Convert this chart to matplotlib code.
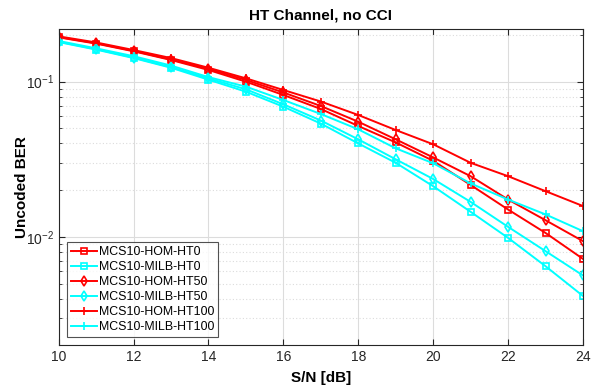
import numpy as np
import matplotlib
matplotlib.use("Agg")
import matplotlib.pyplot as plt
from matplotlib.ticker import LogLocator, NullFormatter

plt.rcParams['font.family'] = ['Liberation Sans', 'DejaVu Sans']

# S/N in dB
snr = [10, 11, 12, 13, 14, 15, 16, 17, 18, 19, 20, 21, 22, 23, 24]

# uncoded BER
hom_ht0 = [0.193, 0.176, 0.157, 0.138, 0.119, 0.100, 0.0821, 0.0667, 0.0518,
           0.0406, 0.0309, 0.0216, 0.0150, 0.0106, 0.00721]
milb_ht0 = [0.180, 0.161, 0.142, 0.123, 0.103, 0.0862, 0.0690, 0.0537, 0.0400,
            0.0300, 0.0212, 0.0145, 0.00985, 0.00647, 0.00416]
hom_ht50 = [0.194, 0.177, 0.158, 0.139, 0.121, 0.1026, 0.0852, 0.0697, 0.0552,
            0.0425, 0.0325, 0.0246, 0.0174, 0.0128, 0.00938]
milb_ht50 = [0.181, 0.162, 0.143, 0.124, 0.105, 0.0893, 0.0715, 0.0562, 0.0425,
             0.0316, 0.0236, 0.0168, 0.0116, 0.00809, 0.00564]
hom_ht100 = [0.196, 0.179, 0.160, 0.142, 0.123, 0.1051, 0.0884, 0.0745, 0.0610,
             0.0488, 0.0395, 0.0300, 0.0246, 0.0197, 0.0158]
milb_ht100 = [0.183, 0.164, 0.146, 0.127, 0.107, 0.0929, 0.0762, 0.0619, 0.0493,
              0.0372, 0.0298, 0.0221, 0.0174, 0.01395, 0.01088]

series = [
    ("MCS10-HOM-HT0", hom_ht0, "#ff0000", "s"),
    ("MCS10-MILB-HT0", milb_ht0, "#00ffff", "s"),
    ("MCS10-HOM-HT50", hom_ht50, "#ff0000", "d"),
    ("MCS10-MILB-HT50", milb_ht50, "#00ffff", "d"),
    ("MCS10-HOM-HT100", hom_ht100, "#ff0000", "+"),
    ("MCS10-MILB-HT100", milb_ht100, "#00ffff", "+"),
]

fig = plt.figure(figsize=(6.02, 3.89), dpi=100)
ax = fig.add_axes([0.0975, 0.1123, 0.8709, 0.8119])

for name, vals, col, mk in series:
    ax.semilogy(snr, vals, color=col, lw=1.4, marker=mk, ms=6 if mk == "+" else 5,
                mfc="none", mew=1.2, label=name)

ax.set_xlim(10, 24)
ax.set_ylim(0.002, 0.217)
ax.set_xticks(range(10, 25, 2))
ax.yaxis.set_major_locator(LogLocator(base=10))
ax.yaxis.set_minor_locator(LogLocator(base=10, subs=np.arange(2, 10)))
ax.yaxis.set_minor_formatter(NullFormatter())

ax.grid(True, which="major", color="#dcdcdc", lw=0.8, ls="-")
ax.grid(True, which="minor", axis="y", color="#dcdcdc", lw=0.8, ls=(0, (1, 2)))
ax.set_axisbelow(True)

ax.tick_params(which="both", direction="in", top=True, right=True,
               colors="#262626", labelsize=10)
ax.tick_params(which="major", length=4)
ax.tick_params(which="minor", length=2)
for s in ax.spines.values():
    s.set_color("#262626")
    s.set_linewidth(0.8)

ax.set_title("HT Channel, no CCI", fontsize=11, fontweight="bold", pad=7)
ax.set_xlabel("S/N [dB]", fontsize=11, fontweight="bold", labelpad=5)
ax.set_ylabel("Uncoded BER", fontsize=11, fontweight="bold")
ax.yaxis.set_label_coords(-0.057, 0.5)

leg = ax.legend(loc="lower left", bbox_to_anchor=(0.012, 0.018), fontsize=8.9,
                frameon=True, fancybox=False, edgecolor="#262626",
                handlelength=2.1, handletextpad=0.15, labelspacing=0.25,
                borderpad=0.3, borderaxespad=0.2)
leg.get_frame().set_linewidth(0.8)

fig.savefig("out.png", dpi=100)
